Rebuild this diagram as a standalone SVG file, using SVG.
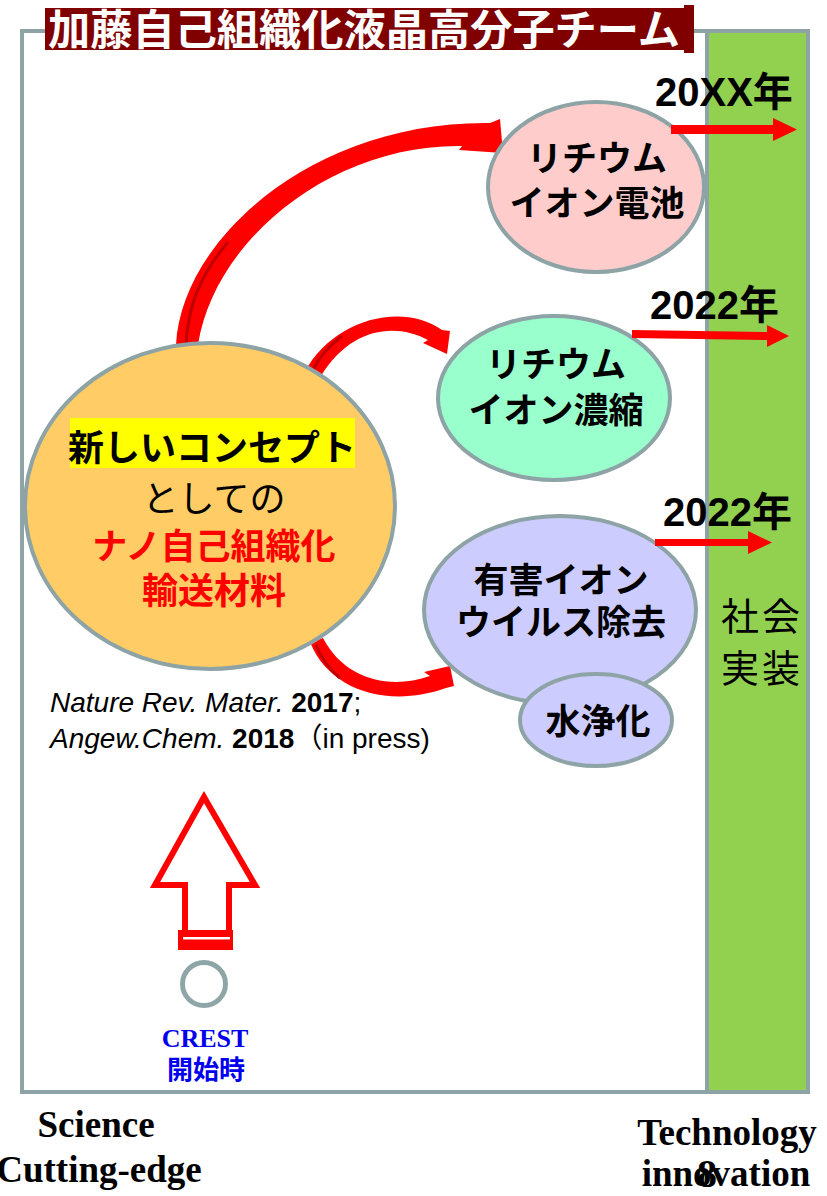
<svg xmlns="http://www.w3.org/2000/svg" width="827" height="1196" viewBox="0 0 827 1196">
<style>
.jp{font-family:"Liberation Sans","Noto Sans CJK JP",sans-serif;}
.b{font-weight:bold;}
.node{stroke:#8DA3A5;stroke-width:4;}
.lbl{font-size:35px;font-weight:bold;fill:#000;text-anchor:middle;}
.yr{font-size:40px;font-weight:bold;fill:#000;}
.ser{font-family:"Liberation Serif","Times New Roman",serif;font-weight:bold;fill:#000;}
.red{fill:#FF0000;}
.dark{fill:none;stroke:#C00000;stroke-width:3;}
</style>
<rect x="0" y="0" width="827" height="1196" fill="#FFFFFF"/>
<g id="frame">
<rect x="22" y="31" width="786" height="1061" fill="#FFFFFF" stroke="#8DA3A5" stroke-width="4"/>
</g>
<g id="bar">
<rect x="707" y="31" width="101" height="1061" fill="#92D050" stroke="#8DA3A5" stroke-width="4"/>
<text class="jp" x="762" y="630" font-size="38" text-anchor="middle" letter-spacing="3" fill="#000">社会</text>
<text class="jp" x="762" y="682" font-size="38" text-anchor="middle" letter-spacing="3" fill="#000">実装</text>
</g>
<g id="title">
<rect x="45" y="8" width="645" height="42" fill="#800000"/>
<rect x="684" y="5" width="10" height="48" fill="#800000"/>
<text class="jp b" x="48" y="45" font-size="42" fill="#FFFFFF" textLength="632" lengthAdjust="spacingAndGlyphs">加藤自己組織化液晶高分子チーム</text>
</g>
<g id="connectors">
<path class="red" d="M176,345 C181,240 312,121 490,123 L500,119 L503,153 L459,150 L462,146 C332,144 214,240 198,345 Z"/>
<path class="dark" d="M186,343 C189,300 203,272 228,242"/>
<path class="red" d="M305,372 C330,322 400,300 442,330 L450,331 L447,354 L423,343 L428,340 C395,322 350,328 321,376 Z"/>
<path class="dark" d="M313,370 C320,355 330,345 342,336"/>
<path class="red" d="M310,642 C330,692 390,708 446,688 L454,686 L450,666 L424,672 L430,676 C390,690 345,680 323,638 Z"/>
<path class="dark" d="M316,645 C322,660 330,670 340,678"/>
</g>
<g id="n-pink">
<ellipse cx="596" cy="187" rx="108" ry="85" fill="#FFCCCC" class="node"/>
<text class="jp lbl" x="597" y="171">リチウム</text>
<text class="jp lbl" x="597" y="216">イオン電池</text>
</g>
<g id="n-green">
<ellipse cx="554" cy="398" rx="116" ry="82" fill="#99FFCC" class="node"/>
<text class="jp lbl" x="556" y="377">リチウム</text>
<text class="jp lbl" x="556" y="423">イオン濃縮</text>
</g>
<g id="n-lavender">
<ellipse cx="560" cy="610" rx="136" ry="94" fill="#CCCCFF" class="node"/>
<text class="jp lbl" x="561" y="593">有害イオン</text>
<text class="jp lbl" x="561" y="635">ウイルス除去</text>
</g>
<g id="n-water">
<ellipse cx="596" cy="720" rx="76" ry="46" fill="#CCCCFF" class="node"/>
<text class="jp lbl" x="598" y="734">水浄化</text>
</g>
<g id="n-concept">
<ellipse cx="210" cy="506" rx="185" ry="163" fill="#FFCC66" class="node"/>
<rect x="70" y="418" width="285" height="50" fill="#FFFF00"/>
<text class="jp" x="212" y="461" font-size="36" font-weight="bold" text-anchor="middle" fill="#000">新しいコンセプト</text>
<text class="jp" x="214" y="512" font-size="36" text-anchor="middle" fill="#000">としての</text>
<text class="jp" x="214" y="559" font-size="35" font-weight="bold" text-anchor="middle" fill="#FF0000">ナノ自己組織化</text>
<text class="jp" x="214" y="604" font-size="36" font-weight="bold" text-anchor="middle" fill="#FF0000">輸送材料</text>
</g>
<g id="citation" class="jp" font-size="28" fill="#000">
<text x="50" y="712"><tspan font-style="italic">Nature Rev. Mater. </tspan><tspan font-weight="bold">2017</tspan><tspan>;</tspan></text>
<text x="50" y="748"><tspan font-style="italic">Angew.Chem. </tspan><tspan font-weight="bold">2018</tspan><tspan>（in press)</tspan></text>
</g>
<g id="years">
<text class="jp yr" x="655" y="106">20XX年</text>
<path class="red" d="M671,125 L773,125 L773,118 L797,129.5 L773,141 L773,134 L671,134 Z"/>
<text class="jp yr" x="650" y="319">2022年</text>
<path class="red" d="M632,330 L767,332 L767,325 L789,336 L767,347 L767,340 L632,338 Z"/>
<text class="jp yr" x="663" y="526">2022年</text>
<path class="red" d="M655,539 L748,539 L748,531 L772,542.5 L748,554 L748,546 L655,546 Z"/>
</g>
<g id="crest">
<polygon points="204,797 155,885 185,885 185,945 229,945 229,885 255,885" fill="#FFFFFF" stroke="#FF0000" stroke-width="6" stroke-linejoin="miter"/>
<rect x="178" y="930" width="55" height="20" fill="#FF0000"/>
<rect x="183" y="937" width="47" height="2.5" fill="#FFFFFF"/>
<circle cx="204" cy="984" r="21.5" fill="none" stroke="#8FA6A6" stroke-width="5"/>
<text x="205" y="1047" font-family="Liberation Serif, serif" font-weight="bold" font-size="26" text-anchor="middle" fill="#0000EE">CREST</text>
<text class="jp" x="206" y="1079" font-size="26" font-weight="bold" text-anchor="middle" fill="#0000EE">開始時</text>
</g>
<g id="axis-labels">
<text class="ser" x="96" y="1137" font-size="37" text-anchor="middle">Science</text>
<text class="ser" x="99" y="1182" font-size="37" text-anchor="middle">Cutting-edge</text>
<text class="ser" x="727" y="1145" font-size="37" text-anchor="middle">Technology</text>
<text class="ser" x="726" y="1186" font-size="37" text-anchor="middle">innovation</text>
<text class="ser" x="697" y="1187" font-size="40" font-weight="normal">8</text>
</g>
</svg>
